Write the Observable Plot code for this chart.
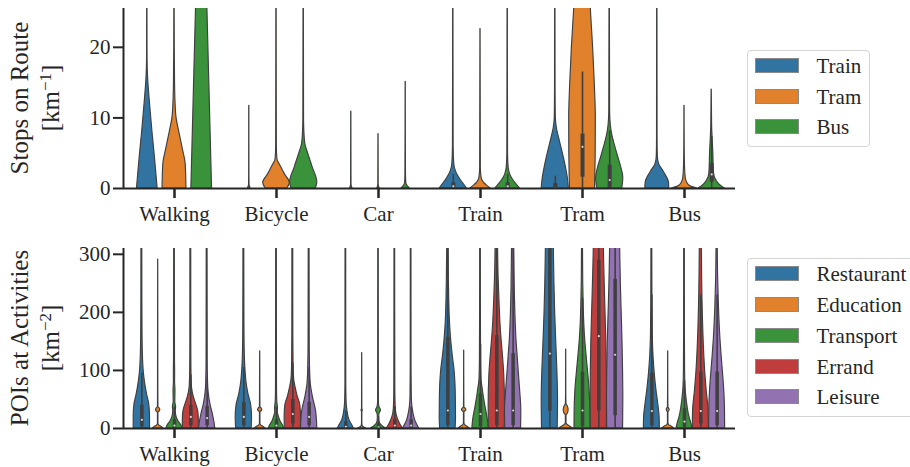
<!DOCTYPE html>
<html>
<head>
<meta charset="utf-8">
<script src="https://cdn.jsdelivr.net/npm/d3@7"></script>
<script src="https://cdn.jsdelivr.net/npm/@observablehq/plot@0.6"></script>
<style>
  body { margin: 0; background: #fff; }
  #fig { position: relative; width: 910px; height: 467px; overflow: hidden;
         font-family: "Liberation Serif", serif; color: #262626; }
  #fig svg { position: absolute; left: 0; display: block; }
  .ylab { position: absolute; width: 240px; height: 62px; line-height: 31px; font-size: 25px;
          text-align: center; transform: rotate(-90deg); white-space: nowrap; }
  .ylab sup { font-size: 0.68em; line-height: 0; vertical-align: 0.5em; }
  .legend { position: absolute; border: 1.3px solid #d5d5d5; border-radius: 4px; background: #fff; }
  .row { position: absolute; left: 7px; height: 15px; font-size: 21px; }
  .sw { position: absolute; left: 0; top: 0; width: 44px; height: 15px; box-sizing: border-box;
        border: 1px solid #8a8a8a; }
  .lab { position: absolute; left: 62px; top: -4px; line-height: 24px; white-space: nowrap; }
</style>
</head>
<body>
<div id="fig"></div>
<script>
// Travel modes along the x axis
const modes = ["Walking", "Bicycle", "Car", "Train", "Tram", "Bus"];

// Upper panel: public-transport stop types
const stopTypes = ["Train", "Tram", "Bus"];
const stopColors = ["#3274a1", "#e1812c", "#3a923a"];
const stopTicks = [0, 10, 20];

// Violin outlines: [value, half-width as share of the slot], one outline per stop type
const stopsWalking = [
  [[0,0.76],[4,0.58],[8,0.38],[12,0.2],[15,0.08],[17,0.03],[20,0.015],[30,0.01]],
  [[0,0.88],[3.5,0.82],[5.5,0.62],[8,0.35],[10,0.15],[12,0.08],[15,0.04],[20,0.02],[30,0.01]],
  [[0,0.76],[25.5,0.42],[30,0.36]]
];
const stopsBicycle = [
  [[0,0.1],[0.2,0.06],[0.5,0.02],[2,0.01],[11.7,0.006]],
  [[0,0.8],[0.8,0.98],[2,0.62],[3.2,0.3],[4.1,0.07],[6,0.025],[30,0.01]],
  [[0,0.9],[0.9,1.0],[3,0.66],[5,0.32],[6.3,0.12],[8,0.05],[10,0.025],[30,0.01]]
];
const stopsCar = [
  [[0,0.1],[0.2,0.05],[0.6,0.015],[10.9,0.006]],
  [[0,0.1],[0.2,0.05],[0.6,0.015],[7.7,0.006]],
  [[0,0.3],[0.3,0.16],[0.7,0.05],[2,0.02],[15.1,0.006]]
];
const stopsTrain = [
  [[0,1.0],[0.5,0.82],[1.1,0.58],[1.8,0.35],[2.5,0.18],[3.5,0.07],[6,0.025],[30,0.01]],
  [[0,0.75],[0.4,0.48],[0.9,0.22],[1.5,0.08],[3,0.025],[22.6,0.006]],
  [[0,0.9],[0.5,0.68],[1.2,0.4],[2,0.18],[3,0.07],[5,0.025],[30,0.01]]
];
const stopsTram = [
  [[0,1.0],[1.5,0.92],[3,0.78],[5,0.55],[7,0.3],[8.5,0.12],[10,0.04],[14,0.02],[30,0.01]],
  [[0,0.92],[5,0.97],[10,0.98],[15,0.9],[20,0.78],[25.5,0.61],[30,0.5]],
  [[0,0.92],[1.5,1.0],[3,0.85],[4.5,0.62],[6,0.4],[7.5,0.2],[9,0.08],[11,0.03],[30,0.01]]
];
const stopsBus = [
  [[0,0.88],[0.8,0.86],[1.7,0.68],[2.6,0.4],[3.4,0.14],[4.5,0.04],[7,0.02],[30,0.01]],
  [[0,0.93],[0.3,0.45],[0.8,0.2],[1.5,0.09],[3,0.04],[6,0.015],[11.7,0.006]],
  [[0,0.96],[0.5,0.6],[1,0.38],[2,0.18],[3.5,0.14],[5,0.12],[7,0.07],[9,0.03],[14,0.006]]
];
// Inner boxes: [mode, stop type, whisker low, q1, median, q3, whisker high]
const stopsBoxes = [
  ["Train", "Train", 0, 0, 0.3, 0.8, 2],
  ["Train", "Bus", 0, 0, 0.3, 0.8, 2],
  ["Tram", "Train", 0, 0, 0, 0.7, 1.75],
  ["Tram", "Tram", 0, 1.6, 5.9, 7.7, 16.5],
  ["Tram", "Bus", 0, 0, 1.2, 3.3, 8.2],
  ["Bus", "Bus", 0, 0.9, 2, 3.5, 7.4]
];

// Lower panel: points of interest around activities
const poiTypes = ["Restaurant", "Education", "Transport", "Errand", "Leisure"];
const poiColors = ["#3274a1", "#e1812c", "#3a923a", "#c03d3e", "#9372b2"];
const poiTicks = [0, 100, 200, 300];

const poiWalking = [
  [[0,1.0],[20,1.0],[40,0.92],[60,0.62],[80,0.38],[100,0.22],[130,0.12],[170,0.08],[230,0.06],[330,0.05]],
  [[0,0.65],[2,0.5],[5,0.15],[8,0.03],[27,0.03],[29.5,0.2],[32,0.26],[34.5,0.2],[37,0.03],[60,0.02],[291,0.006]],
  [[0,1.0],[5,0.85],[12,0.5],[20,0.25],[30,0.15],[37,0.2],[45,0.1],[65,0.12],[80,0.07],[95,0.08],[120,0.06],[200,0.05],[330,0.04]],
  [[0,0.98],[15,0.98],[30,0.9],[42,0.65],[55,0.35],[70,0.15],[90,0.09],[130,0.06],[330,0.05]],
  [[0,1.0],[10,0.9],[25,0.69],[42,0.4],[60,0.2],[80,0.11],[120,0.07],[330,0.05]]
];
const poiBicycle = [
  [[0,0.95],[20,1.0],[40,0.9],[60,0.55],[80,0.32],[100,0.2],[130,0.11],[180,0.07],[330,0.05]],
  [[0,0.65],[2,0.5],[5,0.15],[8,0.03],[28,0.03],[30,0.2],[32,0.25],[34,0.2],[37,0.03],[60,0.02],[133,0.006]],
  [[0,0.94],[5,0.8],[12,0.5],[20,0.3],[28,0.15],[35,0.18],[45,0.1],[70,0.06],[330,0.04]],
  [[0,0.98],[20,1.0],[40,0.92],[55,0.6],[70,0.35],[85,0.16],[110,0.09],[160,0.06],[330,0.05]],
  [[0,1.0],[15,0.95],[30,0.85],[55,0.45],[77,0.2],[105,0.11],[150,0.07],[330,0.05]]
];
const poiCar = [
  [[0,0.98],[5,0.8],[14,0.45],[25,0.25],[35,0.15],[50,0.08],[80,0.05],[330,0.04]],
  [[0,0.5],[2,0.2],[5,0.05],[10,0.02],[28,0.02],[31,0.08],[34,0.02],[130,0.006]],
  [[0,0.94],[4,0.5],[10,0.15],[18,0.08],[25,0.12],[31,0.3],[37,0.12],[45,0.05],[100,0.04],[330,0.03]],
  [[0,1.0],[5,0.75],[14,0.45],[25,0.2],[40,0.1],[70,0.06],[330,0.04]],
  [[0,0.98],[5,0.8],[14,0.5],[25,0.3],[38,0.15],[55,0.08],[100,0.05],[330,0.04]]
];
const poiTrain = [
  [[0,0.95],[20,1.0],[50,0.98],[80,0.92],[100,0.82],[125,0.6],[150,0.42],[180,0.27],[220,0.17],[260,0.12],[330,0.07]],
  [[0,0.7],[3,0.4],[6,0.12],[9,0.03],[28,0.03],[30,0.2],[32,0.27],[34,0.2],[36,0.03],[60,0.015],[134,0.006]],
  [[0,1.0],[15,0.9],[37,0.62],[55,0.4],[70,0.25],[85,0.12],[120,0.07],[200,0.05],[330,0.04]],
  [[0,0.97],[40,1.0],[90,0.92],[120,0.78],[150,0.6],[180,0.45],[210,0.35],[260,0.22],[330,0.14]],
  [[0,0.97],[30,1.0],[65,0.86],[95,0.7],[125,0.55],[150,0.42],[180,0.32],[240,0.2],[330,0.12]]
];
const poiTram = [
  [[0,0.96],[50,1.0],[100,0.92],[150,0.78],[200,0.65],[250,0.56],[300,0.5],[330,0.47]],
  [[0,0.86],[3,0.5],[6,0.18],[9,0.04],[22,0.04],[26,0.22],[32,0.3],[38,0.2],[42,0.04],[60,0.015],[136,0.006]],
  [[0,0.98],[40,0.95],[70,0.85],[95,0.7],[125,0.5],[155,0.32],[180,0.22],[210,0.15],[250,0.09],[330,0.05]],
  [[0,0.97],[50,1.0],[100,0.98],[150,0.92],[200,0.82],[250,0.72],[300,0.63],[330,0.6]],
  [[0,0.97],[50,1.0],[100,0.97],[150,0.9],[200,0.8],[250,0.7],[300,0.63],[330,0.6]]
];
const poiBus = [
  [[0,0.98],[20,0.95],[40,0.8],[65,0.57],[95,0.35],[125,0.2],[160,0.11],[220,0.07],[330,0.05]],
  [[0,0.74],[3,0.45],[6,0.12],[9,0.03],[28,0.03],[30,0.14],[32,0.17],[34,0.14],[36,0.03],[60,0.015],[133,0.006]],
  [[0,0.98],[8,0.85],[20,0.6],[35,0.4],[55,0.22],[70,0.13],[100,0.07],[160,0.05],[330,0.04]],
  [[0,0.98],[30,0.95],[65,0.72],[95,0.55],[150,0.35],[225,0.2],[330,0.12]],
  [[0,0.98],[40,0.95],[70,0.85],[95,0.72],[125,0.55],[155,0.4],[210,0.22],[260,0.12],[330,0.07]]
];
const poiBoxes = [
  ["Walking", "Restaurant", 0, 3, 15, 40, 95],
  ["Walking", "Transport", 0, 0, 5, 15, 37],
  ["Walking", "Errand", 0, 5, 20, 40, 92],
  ["Walking", "Leisure", 0, 5, 18, 38, 87],
  ["Bicycle", "Restaurant", 0, 5, 20, 45, 105],
  ["Bicycle", "Transport", 0, 0, 5, 15, 37],
  ["Bicycle", "Errand", 0, 8, 25, 50, 113],
  ["Bicycle", "Leisure", 0, 5, 20, 45, 105],
  ["Car", "Restaurant", 0, 0, 3, 12, 30],
  ["Car", "Transport", 0, 0, 2, 8, 20],
  ["Car", "Errand", 0, 0, 5, 15, 37],
  ["Car", "Leisure", 0, 0, 5, 15, 37],
  ["Train", "Restaurant", 0, 5, 31, 157, 340],
  ["Train", "Transport", 0, 3, 25, 60, 145],
  ["Train", "Errand", 0, 5, 31, 160, 340],
  ["Train", "Leisure", 0, 5, 31, 129, 315],
  ["Tram", "Restaurant", 0, 30, 129, 350, 350],
  ["Tram", "Transport", 0, 3, 31, 97, 224],
  ["Tram", "Errand", 0, 30, 159, 290, 340],
  ["Tram", "Leisure", 0, 22, 127, 257, 340],
  ["Bus", "Restaurant", 0, 5, 30, 95, 230],
  ["Bus", "Transport", 0, 2, 12, 34, 82],
  ["Bus", "Errand", 0, 8, 30, 97, 230],
  ["Bus", "Leisure", 0, 5, 30, 97, 230]
];

// Turn outlines into left/right edges around each dodged violin centre
function violinRows(byMode, hues) {
  const slot = 0.8 / hues.length, half = slot / 2, rows = [];
  byMode.forEach((profiles, m) => profiles.forEach((profile, h) => {
    const c = m - 0.4 + slot * (h + 0.5);
    for (const [v, w] of profile) {
      rows.push({key: m + "-" + h, hue: hues[h], y: v, x1: c - w * half, x2: c + w * half});
    }
  }));
  return rows;
}
function boxRows(boxes, hues) {
  const slot = 0.8 / hues.length;
  return boxes.map(([mode, hue, lo, q1, med, q3, hi]) => ({
    x: modes.indexOf(mode) - 0.4 + slot * (hues.indexOf(hue) + 0.5), lo, q1, med, q3, hi
  }));
}

const ink = "#262626", edge = "#3f3f3f";

function panel({rows, boxes, hues, colors, yDomain, yTicks, height, marginTop, marginBottom, boxWidth}) {
  return Plot.plot({
    width: 910, height, marginLeft: 123, marginRight: 175, marginTop, marginBottom,
    style: {fontFamily: '"Liberation Serif", serif', fontSize: "21px", color: ink, background: "transparent", overflow: "visible"},
    x: {domain: [-0.5, 5.5]},
    y: {domain: yDomain},
    color: {domain: hues, range: colors},
    marks: [
      Plot.areaX(rows, {x1: "x1", x2: "x2", y: "y", z: "key", fill: "hue", stroke: edge, strokeWidth: 1.15,
                        strokeLinejoin: "round", curve: "monotone-y", clip: true}),
      Plot.ruleX(boxes, {x: "x", y1: "lo", y2: "hi", stroke: edge, strokeWidth: 1.6, clip: true}),
      Plot.ruleX(boxes, {x: "x", y1: "q1", y2: "q3", stroke: edge, strokeWidth: boxWidth, clip: true}),
      Plot.dot(boxes, {x: "x", y: "med", r: 1.1, fill: "white", fillOpacity: 0.8, stroke: null, clip: true}),
      Plot.axisX(d3.range(modes.length), {tickFormat: (i) => modes[i], tickSize: 10, tickPadding: 8,
                                          strokeWidth: 2.5, label: null}),
      Plot.axisY(yTicks, {tickSize: 10, tickPadding: 3, strokeWidth: 2, label: null}),
      Plot.ruleY([yDomain[0]], {stroke: ink, strokeWidth: 2}),
      Plot.ruleX([-0.5], {stroke: ink, strokeWidth: 2})
    ]
  });
}

const fig = document.getElementById("fig");

const stopsPanel = panel({
  rows: violinRows([stopsWalking, stopsBicycle, stopsCar, stopsTrain, stopsTram, stopsBus], stopTypes),
  boxes: boxRows(stopsBoxes, stopTypes),
  hues: stopTypes, colors: stopColors, yDomain: [0, 25.5], yTicks: stopTicks,
  height: 235, marginTop: 8, marginBottom: 47, boxWidth: 4
});
stopsPanel.style.top = "0px";
fig.appendChild(stopsPanel);

const poiPanel = panel({
  rows: violinRows([poiWalking, poiBicycle, poiCar, poiTrain, poiTram, poiBus], poiTypes),
  boxes: boxRows(poiBoxes, poiTypes),
  hues: poiTypes, colors: poiColors, yDomain: [0, 310], yTicks: poiTicks,
  height: 232, marginTop: 13, marginBottom: 39, boxWidth: 3.5
});
poiPanel.style.top = "235px";
fig.appendChild(poiPanel);

// Rotated two-line axis titles
function yTitle(html, cx, cy) {
  const d = document.createElement("div");
  d.className = "ylab";
  d.innerHTML = html;
  d.style.left = (cx - 120) + "px";
  d.style.top = (cy - 31) + "px";
  fig.appendChild(d);
}
yTitle("Stops on Route<br>[km<sup>\u22121</sup>]", 35, 98);
yTitle("POIs at Activities<br>[km<sup>\u22122</sup>]", 35, 338);

// Swatch legends to the right of each panel
function legend(names, colors, left, topPx, width, height, step) {
  const box = document.createElement("div");
  box.className = "legend";
  Object.assign(box.style, {left: left + "px", top: topPx + "px", width: width + "px", height: height + "px"});
  names.forEach((name, i) => {
    const row = document.createElement("div");
    row.className = "row";
    row.style.top = (7 + i * step) + "px";
    const sw = document.createElement("div");
    sw.className = "sw";
    sw.style.background = colors[i];
    const lab = document.createElement("div");
    lab.className = "lab";
    lab.textContent = name;
    row.appendChild(sw);
    row.appendChild(lab);
    box.appendChild(row);
  });
  fig.appendChild(box);
}
legend(stopTypes, stopColors, 746.5, 50, 121.4, 95, 30.5);
legend(poiTypes, poiColors, 746.5, 258.3, 180, 156.8, 30.75);
</script>
</body>
</html>
